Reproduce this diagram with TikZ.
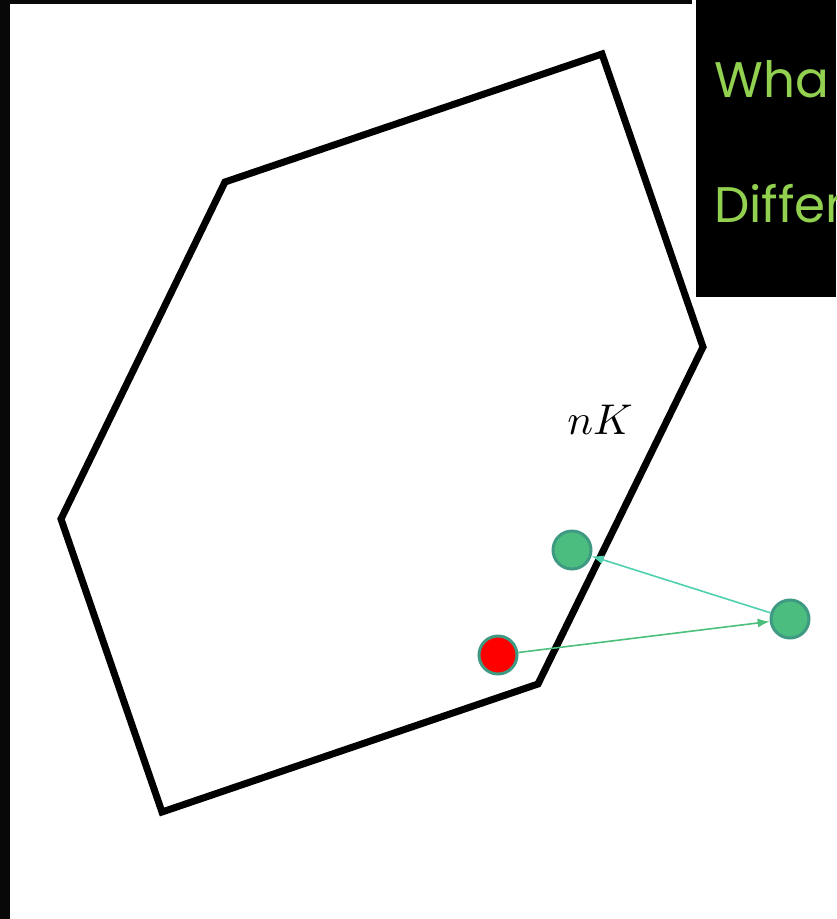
\documentclass[tikz,border=0pt]{standalone}
\usepackage{fontspec}
\newfontfamily\gothic{Poppins}
\usetikzlibrary{arrows.meta}
\definecolor{ptgreen}{HTML}{4BBD7E}
\definecolor{ptedge}{HTML}{3F9A84}
\definecolor{arrteal}{HTML}{4FD1B0}
\definecolor{arrgreen}{HTML}{4CBF7C}
\definecolor{txtgreen}{HTML}{92D050}
\tikzset{
  hull/.style={line width=7pt, line join=miter, black},
  pt/.style={circle, minimum size=38pt, inner sep=0pt, line width=3pt, draw=ptedge},
  conn/.style={line width=1.6pt, -{Latex[length=12pt,width=9pt]}},
  gtext/.style={anchor=base west, inner sep=0pt, text=txtgreen, font=\gothic\fontsize{50}{60}\selectfont},
}
\begin{document}
\begin{tikzpicture}[x=1pt,y=-1pt]
\useasboundingbox (0,0) rectangle (836,919);
\fill[white] (0,0) rectangle (836,919);
% frame strips
\fill[black!97] (0,0) rectangle (10,919);
\fill[black!97] (0,0) rectangle (692,4);
\fill[black] (696,0) rectangle (836,297);
\begin{scope}
\clip (696,0) rectangle (836,297);
\node[gtext] (t1) at (714,97) {Wha};
\node[gtext] (t2) at (714,222) {Differ};
\end{scope}
% polygon
\coordinate (v1) at (225,182);
\coordinate (v2) at (602,54);
\coordinate (v3) at (703,347);
\coordinate (v4) at (538,684);
\coordinate (v5) at (162,812);
\coordinate (v6) at (61,519);
\draw[hull] (v1) -- (v2) -- (v3) -- (v4) -- (v5) -- (v6) -- cycle;
\node[scale=4.3] (nk) at (600,420) {$nK$};
% points
\node[pt, fill=ptgreen] (a) at (572,550) {};
\node[pt, fill=ptgreen] (b) at (790,619) {};
\node[pt, fill=red] (c) at (498,655) {};
\draw[conn, arrteal] (b) -- (a);
\draw[conn, arrgreen] (c) -- (b);
\end{tikzpicture}
\end{document}
